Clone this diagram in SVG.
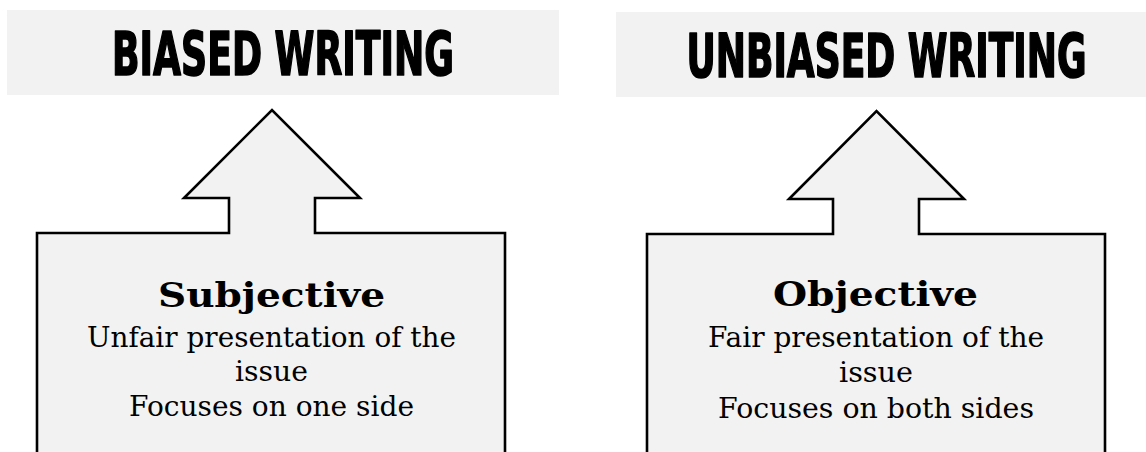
<svg xmlns="http://www.w3.org/2000/svg" width="1146" height="452" viewBox="0 0 1146 452">
<style>
.band{fill:#f2f2f2;}
.title{font-family:"Liberation Sans Narrow","DejaVu Sans Condensed","Liberation Sans",sans-serif;font-weight:bold;font-size:45px;fill:#000;stroke:#000;stroke-width:1.3;stroke-linejoin:round;text-anchor:middle;}
.shape{fill:#f2f2f2;stroke:#000;stroke-width:2.6;stroke-linejoin:miter;}
.head{font-family:"DejaVu Serif","Liberation Serif",serif;font-weight:bold;font-size:34px;fill:#000;text-anchor:middle;}
.body{font-family:"DejaVu Serif","Liberation Serif",serif;font-size:27px;fill:#000;text-anchor:middle;}
</style>
<rect width="1146" height="452" fill="#ffffff"/>
<g id="title-biased">
<rect class="band" x="7" y="10" width="552" height="85"/>
<text class="title" x="0" y="0" transform="translate(283,75) scale(1,1.333)" textLength="342" lengthAdjust="spacingAndGlyphs">BIASED WRITING</text>
</g>
<g id="title-unbiased">
<rect class="band" x="616" y="12" width="530" height="85"/>
<text class="title" x="0" y="0" transform="translate(886.5,77) scale(1,1.333)" textLength="400" lengthAdjust="spacingAndGlyphs">UNBIASED WRITING</text>
</g>
<g id="subjective">
<path class="shape" d="M37,470 L37,233 L229,233 L229,198 L184,198 L272,110 L360,198 L315,198 L315,233 L505,233 L505,470 Z"/>
<text class="head" x="271.5" y="307" textLength="227" lengthAdjust="spacingAndGlyphs">Subjective</text>
<text class="body" x="271.5" y="347" textLength="369" lengthAdjust="spacingAndGlyphs">Unfair presentation of the</text>
<text class="body" x="271.5" y="381" textLength="73" lengthAdjust="spacingAndGlyphs">issue</text>
<text class="body" x="271.5" y="416" textLength="285" lengthAdjust="spacingAndGlyphs">Focuses on one side</text>
</g>
<g id="objective">
<path class="shape" d="M647,470 L647,234 L833,234 L833,199 L789,199 L876.5,111 L964,199 L919,199 L919,234 L1105,234 L1105,470 Z"/>
<text class="head" x="875.5" y="306" textLength="205" lengthAdjust="spacingAndGlyphs">Objective</text>
<text class="body" x="876" y="347" textLength="336" lengthAdjust="spacingAndGlyphs">Fair presentation of the</text>
<text class="body" x="876" y="382" textLength="74" lengthAdjust="spacingAndGlyphs">issue</text>
<text class="body" x="876" y="418" textLength="316" lengthAdjust="spacingAndGlyphs">Focuses on both sides</text>
</g>
<g id="connectors"></g>
</svg>
